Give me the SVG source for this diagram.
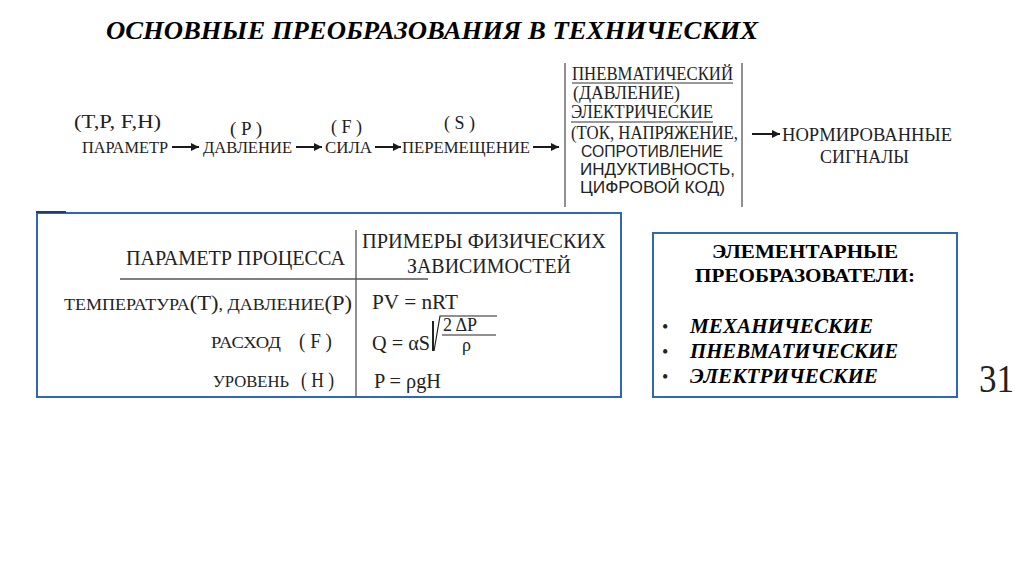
<svg xmlns="http://www.w3.org/2000/svg" width="1024" height="574" viewBox="0 0 1024 574">
<defs>
<marker id="ah" viewBox="0 0 10 10" refX="10" refY="5" markerWidth="12" markerHeight="8" markerUnits="userSpaceOnUse" orient="auto">
<path d="M0,0 L10,5 L0,10 Z" fill="#1a1a1a"/>
</marker>
</defs>
<style>
.s{font-family:"Liberation Serif","Times New Roman",serif;fill:#222}
.ss{font-family:"Liberation Sans",Arial,sans-serif;fill:#222}
.f17{font-size:17px}
.f19{font-size:19px}
.f21{font-size:21px}
.box{fill:none;stroke:#2f67b0;stroke-width:2}
.ln{stroke:#555;stroke-width:1.3;fill:none}
.arr{stroke:#1a1a1a;stroke-width:2;fill:none;marker-end:url(#ah)}
.bi{font-family:"Liberation Serif","Times New Roman",serif;font-weight:bold;font-style:italic;fill:#000}
.b{font-family:"Liberation Serif","Times New Roman",serif;font-weight:bold;fill:#000}
</style>
<rect width="1024" height="574" fill="#fff"/>

<g id="title">
<text class="bi" x="106" y="39" font-size="26" textLength="652" lengthAdjust="spacingAndGlyphs">ОСНОВНЫЕ ПРЕОБРАЗОВАНИЯ В ТЕХНИЧЕСКИХ</text>
</g>

<g id="flow">
<g id="n-param">
<text class="s f19" x="74" y="128" textLength="87" lengthAdjust="spacingAndGlyphs">(T,P, F,H)</text>
<text class="s f17" x="82" y="153" textLength="86" lengthAdjust="spacingAndGlyphs">ПАРАМЕТР</text>
</g>
<g id="n-davl">
<text class="s f19" x="230" y="135" textLength="32" lengthAdjust="spacingAndGlyphs">( P )</text>
<text class="s f17" x="203" y="153" textLength="89" lengthAdjust="spacingAndGlyphs">ДАВЛЕНИЕ</text>
</g>
<g id="n-sila">
<text class="s f19" x="331" y="133" textLength="31" lengthAdjust="spacingAndGlyphs">( F )</text>
<text class="s f17" x="325" y="153" textLength="47" lengthAdjust="spacingAndGlyphs">СИЛА</text>
</g>
<g id="n-perem">
<text class="s f19" x="444" y="129" textLength="31" lengthAdjust="spacingAndGlyphs">( S )</text>
<text class="s f17" x="402" y="153" textLength="128" lengthAdjust="spacingAndGlyphs">ПЕРЕМЕЩЕНИЕ</text>
</g>
<g id="n-signals">
<line class="ln" x1="565" y1="63" x2="565" y2="207"/>
<line class="ln" x1="742" y1="63" x2="742" y2="207"/>
<text class="s" x="572" y="80" font-size="18" textLength="161" lengthAdjust="spacingAndGlyphs">ПНЕВМАТИЧЕСКИЙ</text>
<line x1="572" y1="83" x2="733" y2="83" stroke="#333" stroke-width="1"/>
<text class="s" x="573" y="99" font-size="18" textLength="107" lengthAdjust="spacingAndGlyphs">(ДАВЛЕНИЕ)</text>
<text class="s" x="571" y="118" font-size="18" textLength="142" lengthAdjust="spacingAndGlyphs">ЭЛЕКТРИЧЕСКИЕ</text>
<line x1="571" y1="122" x2="713" y2="122" stroke="#333" stroke-width="1"/>
<text class="s" x="571" y="139" font-size="18" textLength="167" lengthAdjust="spacingAndGlyphs">(ТОК, НАПРЯЖЕНИЕ,</text>
<text class="ss" x="581" y="157" font-size="17" textLength="142" lengthAdjust="spacingAndGlyphs">СОПРОТИВЛЕНИЕ</text>
<text class="ss" x="580" y="175" font-size="17" textLength="155" lengthAdjust="spacingAndGlyphs">ИНДУКТИВНОСТЬ,</text>
<text class="ss" x="580" y="193" font-size="17" textLength="145" lengthAdjust="spacingAndGlyphs">ЦИФРОВОЙ КОД)</text>
</g>
<g id="n-norm">
<text class="s" x="782" y="141" font-size="19" textLength="170" lengthAdjust="spacingAndGlyphs">НОРМИРОВАННЫЕ</text>
<text class="s" x="820" y="163" font-size="19" textLength="89" lengthAdjust="spacingAndGlyphs">СИГНАЛЫ</text>
</g>
</g>

<g id="connectors">
<line class="arr" x1="172" y1="147" x2="199" y2="147"/>
<line class="arr" x1="296" y1="147" x2="322" y2="147"/>
<line class="arr" x1="375" y1="147" x2="401" y2="147"/>
<line class="arr" x1="533" y1="147" x2="559" y2="147"/>
<line class="arr" x1="752" y1="134" x2="780" y2="134"/>
</g>

<g id="table">
<rect class="box" x="37" y="213" width="584" height="184"/>
<line x1="36" y1="212" x2="66" y2="212" stroke="#1f3d73" stroke-width="2"/>
<line class="ln" x1="356" y1="230" x2="356" y2="397"/>
<line class="ln" x1="120" y1="279" x2="428" y2="279"/>
<text class="s f21" x="126" y="265" textLength="219" lengthAdjust="spacingAndGlyphs">ПАРАМЕТР ПРОЦЕССА</text>
<text class="s f21" x="362" y="248" textLength="244" lengthAdjust="spacingAndGlyphs">ПРИМЕРЫ  ФИЗИЧЕСКИХ</text>
<text class="s f21" x="407" y="273" textLength="164" lengthAdjust="spacingAndGlyphs">ЗАВИСИМОСТЕЙ</text>
<text class="s" x="64" y="310" font-size="16" textLength="288" lengthAdjust="spacingAndGlyphs">ТЕМПЕРАТУРА<tspan font-size="20">(Т)</tspan>, ДАВЛЕНИЕ<tspan font-size="20">(Р)</tspan></text>
<text class="s" x="211" y="348" font-size="16" textLength="70" lengthAdjust="spacingAndGlyphs">РАСХОД</text>
<text class="s" x="299" y="348" font-size="20" textLength="33" lengthAdjust="spacingAndGlyphs">( F )</text>
<text class="s" x="213" y="387" font-size="16" textLength="76" lengthAdjust="spacingAndGlyphs">УРОВЕНЬ</text>
<text class="s" x="301" y="387" font-size="20" textLength="33" lengthAdjust="spacingAndGlyphs">( H )</text>
<text class="s f21" x="372" y="309" textLength="86" lengthAdjust="spacingAndGlyphs">PV = nRT</text>
<text class="s f21" x="372" y="350" textLength="58" lengthAdjust="spacingAndGlyphs">Q = αS</text>
<line x1="433" y1="321" x2="433" y2="351" stroke="#222" stroke-width="2"/>
<path d="M434,351 L440,316 H497" fill="none" stroke="#222" stroke-width="1.2"/>
<text class="s" x="443" y="331" font-size="18">2 ΔP</text>
<line x1="442" y1="335" x2="496" y2="335" stroke="#222" stroke-width="1"/>
<text class="s" x="462" y="351" font-size="18">ρ</text>
<text class="s f21" x="374" y="388" textLength="67" lengthAdjust="spacingAndGlyphs">P = ρgH</text>
</g>

<g id="elements">
<rect class="box" x="653" y="233" width="304" height="164"/>
<text class="b" x="805" y="258" font-size="19" text-anchor="middle" textLength="186" lengthAdjust="spacingAndGlyphs">ЭЛЕМЕНТАРНЫЕ</text>
<text class="b" x="805" y="282" font-size="19" text-anchor="middle" textLength="220" lengthAdjust="spacingAndGlyphs">ПРЕОБРАЗОВАТЕЛИ:</text>
<text class="s" x="662" y="333" font-size="18" fill="#000">•</text>
<text class="s" x="662" y="358" font-size="18" fill="#000">•</text>
<text class="s" x="662" y="383" font-size="18" fill="#000">•</text>
<text class="bi" x="690" y="333" font-size="20" textLength="183" lengthAdjust="spacingAndGlyphs">МЕХАНИЧЕСКИЕ</text>
<text class="bi" x="690" y="358" font-size="20" textLength="208" lengthAdjust="spacingAndGlyphs">ПНЕВМАТИЧЕСКИЕ</text>
<text class="bi" x="690" y="383" font-size="20" textLength="188" lengthAdjust="spacingAndGlyphs">ЭЛЕКТРИЧЕСКИЕ</text>
</g>

<g id="page-number">
<text class="s" x="979" y="392" font-size="40" fill="#000" textLength="35" lengthAdjust="spacingAndGlyphs">31</text>
</g>
</svg>
